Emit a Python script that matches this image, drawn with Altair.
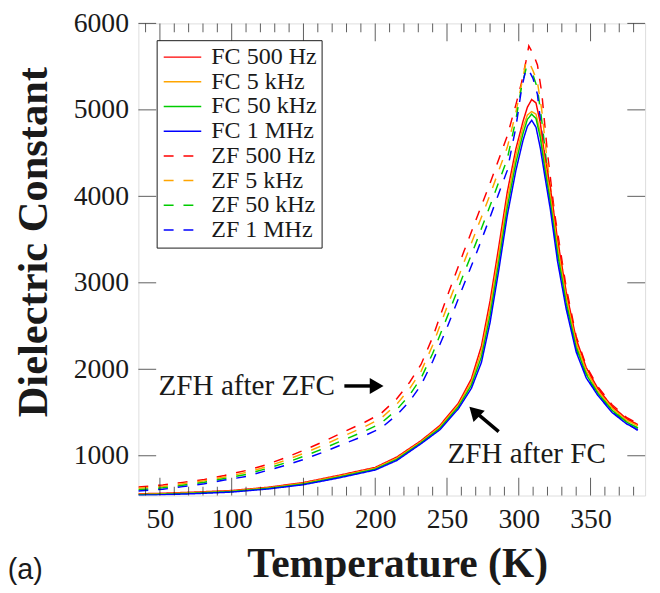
import altair as alt
import pandas as pd

# ---------------- data ----------------
series_names = ["FC 500 Hz", "FC 5 kHz", "FC 50 kHz", "FC 1 MHz",
                "ZF 500 Hz", "ZF 5 kHz", "ZF 50 kHz", "ZF 1 MHz"]

T_FC = [35, 50, 75, 100, 125, 150, 175, 200, 215, 232, 245, 258, 267, 274, 280, 286,
        292, 298, 303, 306, 309, 312, 315, 318, 322, 327, 333, 340, 347, 355, 365, 375, 383]
FC_500Hz = [560, 565, 580, 598, 635, 690, 775, 865, 985, 1175, 1350, 1610, 1890, 2270, 2790, 3410,
            4050, 4550, 4870, 5030, 5120, 5080, 4850, 4470, 4100, 3500, 2900, 2350, 2020, 1780, 1570, 1430, 1360]
FC_5kHz = [554, 559, 574, 592, 628, 682, 765, 855, 972, 1163, 1333, 1588, 1853, 2207, 2707, 3320,
           3960, 4470, 4800, 4940, 4980, 4950, 4740, 4400, 4000, 3420, 2830, 2300, 1980, 1750, 1550, 1410, 1345]
FC_50kHz = [549, 554, 568, 586, 622, 673, 755, 845, 958, 1152, 1317, 1567, 1817, 2143, 2623, 3230,
            3870, 4390, 4730, 4890, 4950, 4900, 4680, 4330, 3930, 3340, 2770, 2250, 1940, 1725, 1525, 1390, 1320]
FC_1MHz = [543, 548, 562, 580, 615, 665, 745, 835, 945, 1140, 1300, 1545, 1780, 2080, 2540, 3140,
           3780, 4300, 4650, 4810, 4880, 4800, 4560, 4250, 3850, 3250, 2700, 2200, 1900, 1700, 1500, 1370, 1300]

T_ZF = [35, 52, 66, 81, 95, 110, 123, 137, 151, 165, 180, 193, 204, 215, 224, 232, 240, 250, 262,
        270, 280, 292, 298, 302, 305, 307, 310, 313, 316, 320, 325, 333, 340, 347, 355, 365, 375, 383, 388]
ZF_500Hz = [639, 662, 692, 726, 772, 829, 890, 974, 1069, 1172, 1290, 1390, 1488, 1659, 1850, 2059, 2370, 2839, 3373,
            3720, 4150, 4700, 5060, 5320, 5560, 5740, 5650, 5520, 5200, 4500, 3800, 2950, 2380, 2040, 1800, 1590, 1445, 1370, None]
ZF_5kHz = [624, 645, 676, 710, 754, 806, 867, 945, 1033, 1131, 1243, 1338, 1432, 1596, 1777, 1979, 2277, 2719, 3245,
           3587, 4020, 4567, 4973, 5297, 5550, 5560, 5450, 5320, 5000, 4380, 3730, 2880, 2330, 2000, 1770, 1565, 1425, 1350, None]
ZF_50kHz = [608, 629, 659, 693, 737, 783, 845, 915, 998, 1091, 1197, 1287, 1376, 1533, 1704, 1900, 2183, 2600, 3118,
            3453, 3890, 4433, 4887, 5273, 5470, 5470, 5400, 5250, 4880, 4290, 3640, 2820, 2280, 1960, 1740, 1540, 1400, 1320, None]
ZF_1MHz = [593, 612, 643, 677, 719, 760, 822, 886, 962, 1050, 1150, 1235, 1320, 1470, 1630, 1820, 2090, 2480, 2990,
           3320, 3760, 4300, 4800, 5250, 5470, 5460, 5360, 5180, 4750, 4200, 3550, 2750, 2230, 1920, 1710, 1510, 1380, 1290, 1240]

x_major = [50, 100, 150, 200, 250, 300, 350]
x_minor = [40, 60, 70, 80, 90, 110, 120, 130, 140, 160, 170, 180, 190, 210, 220, 230, 240,
           260, 270, 280, 290, 310, 320, 330, 340, 360, 370, 380]
y_major = [1000, 2000, 3000, 4000, 5000, 6000]

annot_text = ["ZFH after ZFC", "ZFH after FC", "(a)"]
annot_T = [110.5, 305.5, -56]
annot_v = [1807, 1015, -420]

arrow_T = [178.5, 286]
arrow_v = [1807, 1279]
arrow_T2 = [198, 270.5]
arrow_v2 = [1807, 1495]
head_T = [201, 269]
head_v = [1807, 1511]

colors = ["#ff0000", "#ffa500", "#00cc00", "#0000ff"] * 2
dashes = [[1, 0]] * 4 + [[10, 10]] * 4

# ---------------- build tables ----------------
rows = []
for name, vals in zip(series_names[:4], [FC_500Hz, FC_5kHz, FC_50kHz, FC_1MHz]):
    for i, (t, v) in enumerate(zip(T_FC, vals)):
        rows.append({"series": name, "T": t, "value": v, "i": i})
fc_df = pd.DataFrame(rows)
rows = []
for name, vals in zip(series_names[4:], [ZF_500Hz, ZF_5kHz, ZF_50kHz, ZF_1MHz]):
    for i, (t, v) in enumerate(zip(T_ZF, vals)):
        if v is not None:
            rows.append({"series": name, "T": t, "value": v, "i": i})
zf_df = pd.DataFrame(rows)

W, H = 513, 478
xscale = alt.Scale(domain=[35, 388], nice=False, zero=False)
yscale = alt.Scale(domain=[540, 6000], nice=False, zero=False)
FONT = "Liberation Serif"
INK = "#1a1a1a"

x_axis = alt.Axis(values=x_major, format="d", title="Temperature (K)", ticks=False, tickSize=0, domain=False,
                  grid=False, labelFont=FONT, labelFontSize=28, labelPadding=10, labelColor=INK,
                  titleFont=FONT, titleFontSize=42, titleFontWeight="bold", titleColor=INK,
                  titleX=262, titleY=82, titleAlign="center", titleBaseline="alphabetic")
y_axis = alt.Axis(values=y_major, format="d", title="Dielectric Constant", ticks=False, tickSize=0, domain=False,
                  grid=False, labelFont=FONT, labelFontSize=28, labelPadding=10, labelColor=INK,
                  titleFont=FONT, titleFontSize=43, titleFontWeight="bold", titleColor=INK,
                  titleX=-93, titleY=221, titleAngle=270, titleAlign="center", titleBaseline="alphabetic")

X = alt.X("T:Q", scale=xscale, axis=x_axis)
Y = alt.Y("value:Q", scale=yscale, axis=y_axis)

legend = alt.Legend(title=None, orient="none", legendX=18.5, legendY=17, symbolType="M-1.9,0H1.9",
                    symbolSize=400, symbolStrokeWidth=1.5, symbolOffset=9, labelFont=FONT, labelFontSize=24.3,
                    labelColor=INK, strokeColor=INK, fillColor="white", padding=5, rowPadding=0,
                    labelOffset=17, labelLimit=300)
color = alt.Color("series:N", scale=alt.Scale(domain=series_names, range=colors), legend=legend)
dash = alt.StrokeDash("series:N", scale=alt.Scale(domain=series_names, range=dashes), legend=legend)

zf = alt.Chart(zf_df).mark_line(strokeWidth=1.5, clip=True).encode(
    x=X, y=Y, color=color, strokeDash=dash, order="i:Q")
fc = alt.Chart(fc_df).mark_line(strokeWidth=1.5, clip=True).encode(
    x=X, y=Y, color=color, strokeDash=dash, order="i:Q")

xmaj = pd.DataFrame({"T": x_major})
xmin = pd.DataFrame({"T": x_minor})
ymaj = pd.DataFrame({"value": y_major})
tick_layers = [
    alt.Chart(xmaj).mark_tick(orient="vertical", size=18, thickness=1, color=INK).encode(x=X, y=alt.value(H - 9)),
    alt.Chart(xmaj).mark_tick(orient="vertical", size=18, thickness=1, color=INK).encode(x=X, y=alt.value(9)),
    alt.Chart(xmin).mark_tick(orient="vertical", size=9, thickness=1, color=INK).encode(x=X, y=alt.value(H - 4.5)),
    alt.Chart(xmin).mark_tick(orient="vertical", size=9, thickness=1, color=INK).encode(x=X, y=alt.value(4.5)),
    alt.Chart(ymaj).mark_tick(orient="horizontal", size=18, thickness=1, color=INK).encode(y=Y, x=alt.value(9)),
    alt.Chart(ymaj).mark_tick(orient="horizontal", size=18, thickness=1, color=INK).encode(y=Y, x=alt.value(W - 9)),
]

ann_df = pd.DataFrame({"T": annot_T[:2], "value": annot_v[:2], "txt": annot_text[:2]})
ann = alt.Chart(ann_df).mark_text(font=FONT, fontSize=29.5, color=INK, align="center", baseline="middle").encode(
    x=X, y=Y, text="txt:N")
lab_df = pd.DataFrame({"T": annot_T[2:], "value": annot_v[2:], "txt": annot_text[2:]})
lab = alt.Chart(lab_df).mark_text(font="Liberation Sans", fontSize=29, color=INK, align="left",
                                  baseline="alphabetic").encode(x=X, y=Y, text="txt:N")

arr_df = pd.DataFrame({"T": arrow_T, "value": arrow_v, "T2": arrow_T2, "value2": arrow_v2})
arrows = alt.Chart(arr_df).mark_rule(strokeWidth=3.5, color="black").encode(x=X, y=Y, x2="T2:Q", y2="value2:Q")
h1 = alt.Chart(pd.DataFrame({"T": head_T[:1], "value": head_v[:1]})).mark_point(
    shape="triangle-right", filled=True, size=260, color="black", opacity=1).encode(x=X, y=Y)
h2 = alt.Chart(pd.DataFrame({"T": head_T[1:], "value": head_v[1:]})).mark_point(
    shape="triangle-up", angle=315, filled=True, size=260, color="black", opacity=1).encode(x=X, y=Y)

chart = alt.layer(zf, fc, *tick_layers, arrows, h1, h2, ann, lab).properties(
    width=W, height=H,
    autosize=alt.AutoSizeParams(type="none"),
    padding={"left": 132, "top": 12, "right": 7, "bottom": 87},
).configure_view(stroke=INK, strokeWidth=1).configure_axis(
    labelFont=FONT, titleFont=FONT
).configure(background="white")

chart.save("out.html", embed_options={"renderer": "svg", "actions": False})
